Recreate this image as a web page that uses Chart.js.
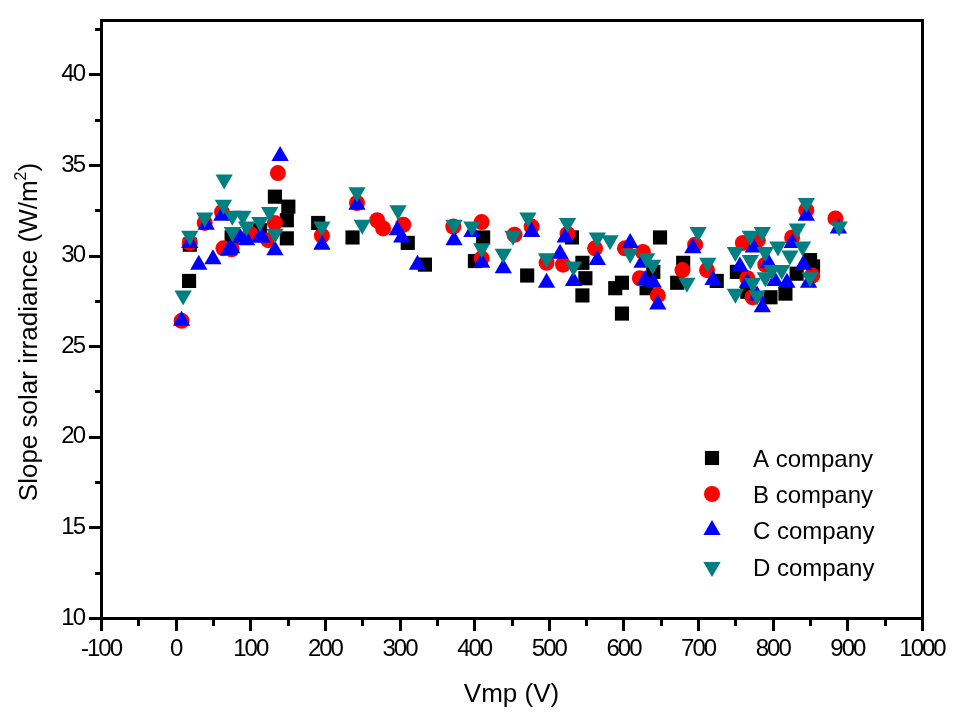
<!DOCTYPE html>
<html><head><meta charset="utf-8">
<script src="https://cdn.jsdelivr.net/npm/chart.js@4/dist/chart.umd.min.js"></script>
<style>html,body{margin:0;padding:0;background:#fff;}canvas{display:block;}</style>
</head><body>
<canvas id="c" width="967" height="718"></canvas>
<script>
// ---- data ----
const seriesNames = ['A company', 'B company', 'C company', 'D company'];
const xTickLabels = [-100, 0, 100, 200, 300, 400, 500, 600, 700, 800, 900, 1000];
const yTickLabels = [10, 15, 20, 25, 30, 35, 40];
const xTitle = 'Vmp (V)';
const yTitle = 'Slope solar irradiance (W/m';

const aX = [18, 19, 75, 113, 133, 149, 149, 151, 191, 237, 311, 334, 401, 412, 471, 531, 545, 549, 545, 589, 598, 598, 631, 640, 649, 672, 680, 725, 752, 766, 797, 817, 832, 850, 854];
const aY = [28.6, 30.6, 31.0, 31.4, 33.25, 31.95, 30.95, 32.7, 31.8, 31.0, 30.7, 29.5, 29.7, 31.0, 28.9, 31.0, 29.6, 28.75, 27.8, 28.2, 28.5, 26.8, 28.2, 29.1, 31.0, 28.5, 29.6, 28.6, 29.1, 28.0, 27.7, 27.9, 29.0, 29.75, 29.4];

const bX = [8, 19, 39, 62, 64, 75, 100, 124, 133, 137, 196, 243, 270, 278, 305, 372, 410, 410, 454, 477, 497, 519, 525, 562, 602, 626, 622, 646, 679, 696, 712, 760, 780, 766, 773, 790, 826, 845, 853, 884];
const bY = [26.4, 30.7, 31.8, 32.4, 30.4, 30.35, 31.2, 30.85, 31.8, 34.55, 31.1, 32.9, 31.95, 31.5, 31.7, 31.6, 31.85, 29.85, 31.15, 31.6, 29.6, 29.5, 31.2, 30.4, 30.4, 30.2, 28.75, 27.8, 29.2, 30.6, 29.2, 30.7, 30.85, 28.75, 27.7, 29.5, 31.0, 32.5, 28.9, 32.05];

const cX = [8, 19, 31, 41, 50, 62, 71, 75, 86, 95, 113, 116, 133, 140, 196, 243, 297, 303, 324, 373, 397, 410, 439, 477, 497, 515, 522, 533, 565, 609, 625, 629, 640, 646, 693, 720, 756, 766, 774, 779, 786, 794, 803, 819, 826, 841, 845, 848, 888];
const cY = [26.4, 30.7, 29.5, 31.7, 29.8, 32.2, 30.3, 30.4, 31.0, 30.85, 31.0, 31.0, 30.3, 35.5, 30.6, 32.8, 31.4, 31.0, 29.5, 30.85, 31.3, 29.6, 29.3, 31.3, 28.5, 30.1, 31.0, 28.6, 29.75, 30.7, 29.6, 28.65, 28.5, 27.3, 30.4, 28.65, 29.4, 28.5, 30.45, 27.8, 27.15, 29.6, 28.6, 28.5, 30.7, 29.5, 32.2, 28.5, 31.5];

const dX = [10, 19, 39, 64, 65, 76, 90, 76, 95, 113, 126, 133, 196, 243, 250, 298, 373, 397, 410, 439, 452, 472, 497, 525, 533, 565, 582, 609, 631, 639, 685, 700, 713, 750, 750, 770, 786, 770, 773, 779, 790, 790, 799, 807, 812, 823, 833, 840, 845, 850, 889];
const dY = [27.8, 31.1, 32.1, 32.8, 34.2, 32.2, 32.2, 31.3, 31.6, 31.85, 32.4, 31.2, 31.6, 33.5, 31.7, 32.5, 31.7, 31.6, 30.4, 30.1, 31.1, 32.1, 29.85, 31.8, 29.4, 31.0, 30.85, 30.1, 29.85, 29.5, 28.5, 31.3, 29.6, 27.9, 30.2, 31.1, 31.3, 29.75, 28.5, 27.8, 28.8, 30.2, 29.2, 30.5, 29.2, 30.0, 31.5, 30.5, 32.9, 28.8, 31.6];

// ---- styles ----
const colors = ['#000000', '#ff0000', '#0000ff', '#008080'];
const shapes = ['rect', 'circle', 'triangle', 'triangle'];
const rotations = [0, 0, 0, 180];
const radii = [10, 8, 10, 10];
const TITLE_FONT = '26px "Liberation Sans", Arial, sans-serif';
const LEGEND_FONT = '24px "Liberation Sans", Arial, sans-serif';
const TICK_FAMILY = '"Liberation Sans", Arial, sans-serif';

function pts(xs, ys) { return xs.map((x, i) => ({ x: x, y: ys[i] })); }
const allX = [aX, bX, cX, dX];
const allY = [aY, bY, cY, dY];

const datasets = seriesNames.map((name, i) => ({
  label: name,
  data: pts(allX[i], allY[i]),
  backgroundColor: colors[i],
  borderColor: colors[i],
  borderWidth: 0,
  pointStyle: shapes[i],
  pointRotation: rotations[i],
  pointRadius: radii[i],
  pointHoverRadius: radii[i],
  order: 4 - i
}));

function drawMarker(ctx, shape, rot, r, x, y, color) {
  ctx.save();
  ctx.fillStyle = color;
  ctx.beginPath();
  if (shape === 'rect') {
    const s = Math.SQRT1_2 * r;
    ctx.rect(x - s, y - s, 2 * s, 2 * s);
  } else if (shape === 'circle') {
    ctx.arc(x, y, r, 0, Math.PI * 2);
  } else {
    let rad = rot * Math.PI / 180;
    for (let k = 0; k < 3; k++) {
      const px = x + Math.sin(rad) * r, py = y - Math.cos(rad) * r;
      if (k === 0) ctx.moveTo(px, py); else ctx.lineTo(px, py);
      rad += 2 * Math.PI / 3;
    }
    ctx.closePath();
  }
  ctx.fill();
  ctx.restore();
}

const framePlugin = {
  id: 'frame',
  beforeDraw(chart) {
    chart.ctx.letterSpacing = '-2px';
  },
  afterDraw(chart) {
    const { ctx, chartArea: ca, scales } = chart;
    const xs = scales.x, ys = scales.y;
    ctx.save();
    ctx.letterSpacing = '0px';
    ctx.strokeStyle = '#000';
    ctx.lineWidth = 3;
    ctx.strokeRect(ca.left + 0.5, ca.top + 0.5, ca.right - ca.left, ca.bottom - ca.top);
    ctx.lineCap = 'butt';
    // x ticks
    for (let v = -100; v <= 1000; v += 50) {
      const px = Math.round(xs.getPixelForValue(v)) + 0.5;
      const major = xTickLabels.includes(v);
      ctx.beginPath();
      ctx.moveTo(px, ca.bottom);
      ctx.lineTo(px, ca.bottom + (major ? 13 : 8));
      ctx.stroke();
    }
    // y ticks
    for (let v = 10; v <= 43; v += 2.5) {
      const py = Math.round(ys.getPixelForValue(v)) + 0.5;
      const major = yTickLabels.includes(v);
      ctx.beginPath();
      ctx.moveTo(ca.left, py);
      ctx.lineTo(ca.left - (major ? 12 : 6), py);
      ctx.stroke();
    }
    // axis titles
    ctx.fillStyle = '#000';
    ctx.font = TITLE_FONT;
    ctx.textAlign = 'center';
    ctx.textBaseline = 'alphabetic';
    ctx.fillText(xTitle, (ca.left + ca.right) / 2, 702);
    // y title, rotated, with superscript
    ctx.save();
    ctx.translate(37, 332);
    ctx.rotate(-Math.PI / 2);
    ctx.font = TITLE_FONT;
    const w1 = ctx.measureText(yTitle).width;
    ctx.font = '16px "Liberation Sans", Arial, sans-serif';
    const w2 = ctx.measureText('2').width;
    ctx.font = TITLE_FONT;
    const w3 = ctx.measureText(')').width;
    const total = w1 + w2 + w3;
    let x0 = -total / 2;
    ctx.textAlign = 'left';
    ctx.fillText(yTitle, x0, 0);
    ctx.font = '16px "Liberation Sans", Arial, sans-serif';
    ctx.fillText('2', x0 + w1, -11);
    ctx.font = TITLE_FONT;
    ctx.fillText(')', x0 + w1 + w2, 0);
    ctx.restore();
    // legend
    const lx = 712, tx = 753;
    const rowsY = [458, 494, 530, 567];
    ctx.font = LEGEND_FONT;
    ctx.textAlign = 'left';
    seriesNames.forEach((n, i) => {
      drawMarker(ctx, shapes[i], rotations[i], radii[i], lx, rowsY[i], colors[i]);
      ctx.fillStyle = '#000';
      ctx.fillText(n, tx, rowsY[i] + 9);
    });
    ctx.restore();
  }
};

new Chart(document.getElementById('c'), {
  type: 'scatter',
  data: { datasets },
  plugins: [framePlugin],
  options: {
    responsive: false,
    animation: false,
    events: [],
    devicePixelRatio: 1,
    layout: { padding: { left: 0, top: 20, right: 45, bottom: 0 } },
    plugins: { legend: { display: false }, tooltip: { enabled: false } },
    scales: {
      x: {
        type: 'linear', min: -100, max: 1000,
        grid: { display: false, drawTicks: false },
        border: { display: false },
        ticks: {
          stepSize: 100, color: '#000', padding: 17, maxRotation: 0, autoSkip: false,
          font: { family: TICK_FAMILY, size: 24 },
          callback: (v) => xTickLabels.includes(v) ? String(v) : null
        },
        afterFit(s) { s.height = 100; s.paddingLeft = 0; s.paddingRight = 0; }
      },
      y: {
        type: 'linear', min: 10, max: 43,
        grid: { display: false, drawTicks: false },
        border: { display: false },
        ticks: {
          stepSize: 5, color: '#000', padding: 17, autoSkip: false,
          font: { family: TICK_FAMILY, size: 24 },
          callback: (v) => yTickLabels.includes(v) ? String(v) : null
        },
        afterFit(s) { s.width = 101; s.paddingTop = 0; s.paddingBottom = 0; }
      }
    }
  }
});
</script>
</body></html>
